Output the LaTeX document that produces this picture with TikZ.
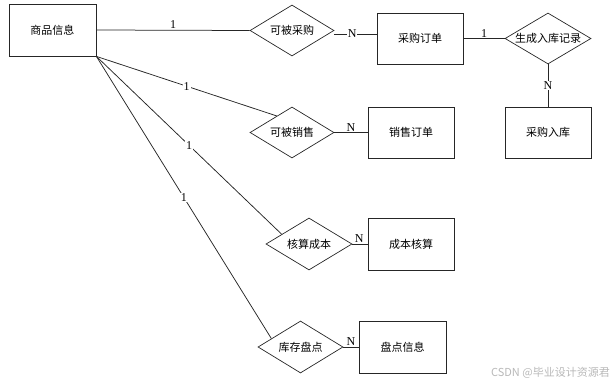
\documentclass[tikz,border=0pt]{standalone}
\usepackage{fontspec}
\setmainfont{Liberation Serif}
\newfontfamily\cjk{Noto Sans CJK SC}
\usetikzlibrary{shapes.geometric,calc}
\tikzset{
  ent/.style={draw=black!85,line width=0.8pt,minimum width=86pt,minimum height=51pt,inner sep=0pt,font=\cjk\fontsize{11}{13}\selectfont},
  rel/.style={draw=black!85,line width=0.7pt,diamond,minimum width=85pt,minimum height=51pt,inner sep=0pt,font=\cjk\fontsize{11}{13}\selectfont},
  conn/.style={draw=black!85,line width=0.75pt},
  card/.style={font=\fontsize{12}{13}\selectfont,inner sep=1pt,fill=white},
  cardab/.style={font=\fontsize{12}{13}\selectfont,inner sep=1pt,above}
}
\newcommand{\dtext}[1]{\makebox[0pt]{#1}}
\begin{document}
\begin{tikzpicture}[x=1pt,y=-1pt]
\useasboundingbox (0,0) rectangle (616,385);
% entities
\node[ent,minimum width=87pt,minimum height=52pt] (e) at (52.5,30) {商品信息};
\node[ent] (o1) at (420,38.5) {采购订单};
\node[ent] (r) at (548,132.5) {采购入库};
\node[ent] (s) at (411,132.5) {销售订单};
\node[ent,minimum height=52pt] (c) at (411,244) {成本核算};
\node[ent,minimum width=87pt,minimum height=52pt] (p) at (402.5,347) {盘点信息};
% relations
\node[rel,minimum width=84pt] (d1) at (292,30.5) {\dtext{可被采购}};
\node[rel,minimum width=86pt] (d5) at (548,38.5) {\dtext{生成入库记录}};
\node[rel,minimum width=84pt] (d2) at (292,132.5) {\dtext{可被销售}};
\node[rel,minimum width=86pt,minimum height=52pt] (d3) at (309,244) {\dtext{核算成本}};
\node[rel,minimum width=85pt,minimum height=52pt] (d4) at (300.5,347) {\dtext{库存盘点}};
% edge end points on diamond borders
\coordinate (e2) at ($(d2.north)!0.36!(d2.west)$);
\coordinate (e3) at ($(d3.north)!0.63!(d3.west)$);
\coordinate (e4) at ($(d4.north)!0.68!(d4.west)$);
% connectors
\draw[conn] (e.east) -- node[cardab,pos=0.5]{1} (d1.west);
\draw[conn] (e.south east) -- node[card,pos=0.5]{1} (e2);
\draw[conn] (e.south east) -- node[card,pos=0.5]{1} (e3);
\draw[conn] (e.south east) -- node[card,pos=0.5]{1} (e4);
\draw[conn] ([yshift=-3.5pt]d1.east) -- node[card,pos=0.42]{N} ([yshift=-3.5pt]d1.east -| o1.west);
\draw[conn] (o1.east) -- node[cardab,pos=0.5]{1} (d5.west);
\draw[conn] (d5.south) -- node[card,pos=0.5]{N} (r.north);
\draw[conn] (d2.east) -- node[cardab,pos=0.5]{N} (s.west);
\draw[conn] (d3.east) -- node[cardab,pos=0.45]{N} (c.west);
\draw[conn] (d4.east) -- node[cardab,pos=0.5]{N} (p.west);
% watermark
\node[font=\cjk\fontsize{11}{12}\selectfont,text=black!28,anchor=east,inner sep=0pt] (wm) at (610,373) {CSDN @毕业设计资源君};
\end{tikzpicture}
\end{document}
